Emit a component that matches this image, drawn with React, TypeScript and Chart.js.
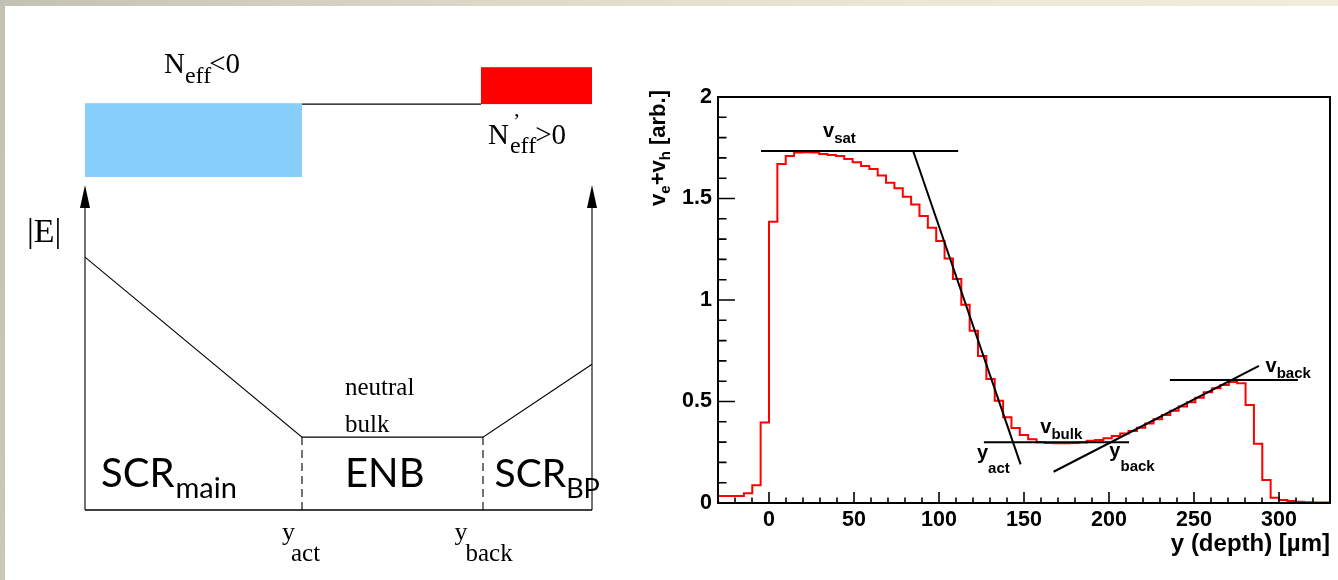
import React, { useEffect, useRef } from "react";
import { Chart, registerables } from "chart.js";

Chart.register(...registerables);

// ================= Right panel data (ROOT histogram, v_e + v_h vs depth) =================
const binWidth = 300 / 61; // µm per bin
const firstBinIndex = -7; // index of the first bin listed below (bin k spans k*w .. (k+1)*w)
const velocitySum = [
  0.034, 0.034, 0.034, 0.034, 0.048, 0.087, 0.396,
  1.386, 1.670, 1.709, 1.726, 1.728, 1.726, 1.719, 1.714, 1.709, 1.695,
  1.678, 1.660, 1.645, 1.613, 1.578, 1.550, 1.509, 1.471, 1.414, 1.356,
  1.291, 1.205, 1.103, 0.977, 0.849, 0.724, 0.611, 0.504, 0.422, 0.370,
  0.335, 0.314, 0.299, 0.295, 0.294, 0.294, 0.295, 0.298, 0.307, 0.310,
  0.319, 0.330, 0.342, 0.355, 0.371, 0.392, 0.412, 0.433, 0.455, 0.475,
  0.496, 0.519, 0.545, 0.565, 0.581, 0.596, 0.590, 0.483, 0.292, 0.113,
  0.026, 0.015, 0.010, 0.006, 0.004, 0.003, 0.003, 0.003,
];

const xMajorTicks = [0, 50, 100, 150, 200, 250, 300];
const xMinorTicks = [-20, -10, 10, 20, 30, 40, 60, 70, 80, 90, 110, 120, 130, 140, 160, 170, 180, 190, 210, 220, 230, 240, 260, 270, 280, 290, 310, 320];
const yMajorTicks = [0, 0.5, 1, 1.5, 2];
const yTickLabels = ["0", "0.5", "1", "1.5", "2"];
const yMinorTicks = [0.1, 0.2, 0.3, 0.4, 0.6, 0.7, 0.8, 0.9, 1.1, 1.2, 1.3, 1.4, 1.6, 1.7, 1.8, 1.9];

// straight-line constructions drawn on the histogram (µm, arb.)
const satLineX = [-4.7, 111.3];
const satLineY = [1.734, 1.734];
const actSlopeX = [84.8, 148.0];
const actSlopeY = [1.734, 0.19];
const bulkLineX = [126.4, 211.8];
const bulkLineY = [0.299, 0.299];
const backSlopeX = [167.4, 288.2];
const backSlopeY = [0.154, 0.676];
const backLineX = [235.8, 311.1];
const backLineY = [0.606, 0.606];

const fitLabelBase = ["v", "v", "y", "y", "v"];
const fitLabelSub = ["sat", "bulk", "act", "back", "back"];
const fitLabelX = [31.8, 159.6, 122.3, 200.2, 292.1];
const fitLabelY = [1.804, 0.343, 0.219, 0.227, 0.647];

// ================= Left panel (schematic) data, in schematic units =================
const fieldProfileX = [0, 42.8, 78.5, 100];
const fieldProfileY = [56.2, 16.2, 16.2, 32.4];
const regionEdges = [42.8, 78.5];
const regionEdgeTop = 16.2;
const arrowX = [0, 100];
const arrowTop = 72.2;
const negBlockX = [0, 42.8];
const negBlockY = [74.0, 90.4];
const posBlockX = [78.1, 100];
const posBlockY = [90.2, 98.4];
const junctionLineX = [42.8, 78.1];
const junctionLineY = 90.2;

type Part = { t: string; size: number; dx?: number; dy?: number; noAdvance?: boolean };

const SERIF = '"Liberation Serif", "DejaVu Serif", serif';
const SANS = 'Lato, "Open Sans", sans-serif';
const ROOTFONT = '"Liberation Sans", Arial, sans-serif';

const schematicLabels: { x: number; y: number; family: string; parts: Part[] }[] = [
  { x: 15.58, y: 97.11, family: SERIF, parts: [{ t: "N", size: 29 }, { t: "eff", size: 24, dy: 10 }, { t: "<0", size: 29, dx: -2 }] },
  { x: 79.49, y: 81.33, family: SERIF, parts: [{ t: "N", size: 29 }, { t: "\u2019", size: 22, dx: 4, dy: -16, noAdvance: true }, { t: "eff", size: 24, dy: 9, dx: -3 }, { t: ">0", size: 29, dx: -1 }] },
  { x: -11.44, y: 59.56, family: SERIF, parts: [{ t: "|E|", size: 34 }] },
  { x: 51.28, y: 25.56, family: SERIF, parts: [{ t: "neutral", size: 25 }] },
  { x: 51.28, y: 17.4, family: SERIF, parts: [{ t: "bulk", size: 25 }] },
  { x: 3.16, y: 5.11, family: SANS, parts: [{ t: "SCR", size: 40 }, { t: "main", size: 29, dy: 11, dx: 1 }] },
  { x: 51.28, y: 5.11, family: SANS, parts: [{ t: "ENB", size: 40 }] },
  { x: 80.77, y: 5.11, family: SANS, parts: [{ t: "SCR", size: 39 }, { t: "BP", size: 27, dy: 11, dx: 0 }] },
  { x: 38.86, y: -6.67, family: SERIF, parts: [{ t: "y", size: 26 }, { t: "act", size: 25, dx: -4, dy: 21 }] },
  { x: 72.88, y: -6.67, family: SERIF, parts: [{ t: "y", size: 26 }, { t: "back", size: 25, dx: -2, dy: 21 }] },
];

function drawRich(ctx: CanvasRenderingContext2D, x: number, y: number, parts: Part[], family: string, weight: string, align: "left" | "right" = "left") {
  ctx.save();
  ctx.textBaseline = "alphabetic";
  ctx.textAlign = "left";
  ctx.fillStyle = "#000";
  const widths = parts.map((p) => {
    ctx.font = `${weight} ${p.size}px ${family}`;
    return ctx.measureText(p.t).width;
  });
  let total = 0;
  parts.forEach((p, i) => { total += (p.dx || 0) + (p.noAdvance ? 0 : widths[i]); });
  let pen = align === "right" ? x - total : x;
  parts.forEach((p, i) => {
    ctx.font = `${weight} ${p.size}px ${family}`;
    pen += p.dx || 0;
    ctx.fillText(p.t, pen, y + (p.dy || 0));
    if (!p.noAdvance) pen += widths[i];
  });
  ctx.restore();
}

const pts = (xs: number[], ys: number[]) => xs.map((x, i) => ({ x, y: ys[i] }));

export default function App() {
  const leftRef = useRef<HTMLCanvasElement>(null);
  const rightRef = useRef<HTMLCanvasElement>(null);

  useEffect(() => {
    // ---------------- schematic ----------------
    const schematicPlugin = {
      id: "schematic",
      beforeDatasetsDraw(chart: any) {
        const { ctx, scales: { x, y } } = chart;
        ctx.save();
        ctx.fillStyle = "#87cefa";
        ctx.fillRect(x.getPixelForValue(negBlockX[0]), y.getPixelForValue(negBlockY[1]), x.getPixelForValue(negBlockX[1]) - x.getPixelForValue(negBlockX[0]), y.getPixelForValue(negBlockY[0]) - y.getPixelForValue(negBlockY[1]));
        ctx.fillStyle = "#ff0000";
        ctx.fillRect(x.getPixelForValue(posBlockX[0]), y.getPixelForValue(posBlockY[1]), x.getPixelForValue(posBlockX[1]) - x.getPixelForValue(posBlockX[0]), y.getPixelForValue(posBlockY[0]) - y.getPixelForValue(posBlockY[1]));
        ctx.restore();
      },
      afterDatasetsDraw(chart: any) {
        const { ctx, scales: { x, y } } = chart;
        ctx.save();
        ctx.fillStyle = "#000";
        for (const ax of arrowX) {
          const px = x.getPixelForValue(ax);
          const py = y.getPixelForValue(arrowTop);
          ctx.beginPath();
          ctx.moveTo(px, py);
          ctx.lineTo(px - 5, py + 23);
          ctx.lineTo(px + 5, py + 23);
          ctx.closePath();
          ctx.fill();
        }
        ctx.restore();
        for (const l of schematicLabels) {
          drawRich(ctx, x.getPixelForValue(l.x), y.getPixelForValue(l.y), l.parts, l.family, "normal");
        }
      },
    };

    const thin = { borderColor: "#000", borderWidth: 1.1, pointRadius: 0, showLine: true, fill: false, tension: 0, clip: false as any };
    const left = new Chart(leftRef.current!, {
      type: "scatter",
      data: {
        datasets: [
          { ...thin, data: pts(fieldProfileX, fieldProfileY) },
          { ...thin, borderWidth: 1.5, data: pts([arrowX[0], arrowX[1]], [0, 0]) },
          { ...thin, data: pts([arrowX[0], arrowX[0]], [0, arrowTop - 2]) },
          { ...thin, data: pts([arrowX[1], arrowX[1]], [0, arrowTop - 2]) },
          { ...thin, borderDash: [8, 5], data: pts([regionEdges[0], regionEdges[0]], [0, regionEdgeTop]) },
          { ...thin, borderDash: [8, 5], data: pts([regionEdges[1], regionEdges[1]], [0, regionEdgeTop]) },
          { ...thin, data: pts(junctionLineX, [junctionLineY, junctionLineY]) },
        ],
      },
      options: {
        animation: false,
        responsive: false,
        events: [],
        layout: { padding: { left: 85, right: 48, top: 60, bottom: 70 } },
        scales: {
          x: { type: "linear", display: false, min: 0, max: 100 },
          y: { type: "linear", display: false, min: 0, max: 100 },
        },
        plugins: { legend: { display: false }, tooltip: { enabled: false } },
      },
      plugins: [schematicPlugin],
    });

    // ---------------- ROOT-style histogram ----------------
    const histData = velocitySum.map((v, i) => ({ x: (firstBinIndex + i) * binWidth, y: v }));
    histData.push({ x: (firstBinIndex + velocitySum.length) * binWidth, y: velocitySum[velocitySum.length - 1] });

    const rootPlugin = {
      id: "rootFrame",
      afterDatasetsDraw(chart: any) {
        const { ctx, chartArea: a, scales: { x, y } } = chart;
        ctx.save();
        ctx.strokeStyle = "#000";
        ctx.lineWidth = 2;
        ctx.strokeRect(a.left, a.top, a.right - a.left, a.bottom - a.top);
        ctx.lineWidth = 1.6;
        ctx.beginPath();
        for (const v of xMajorTicks) { const p = x.getPixelForValue(v); ctx.moveTo(p, a.bottom); ctx.lineTo(p, a.bottom - 11); }
        for (const v of xMinorTicks) { const p = x.getPixelForValue(v); ctx.moveTo(p, a.bottom); ctx.lineTo(p, a.bottom - 5.5); }
        for (const v of yMajorTicks) { const p = y.getPixelForValue(v); ctx.moveTo(a.left, p); ctx.lineTo(a.left + 17, p); }
        for (const v of yMinorTicks) { const p = y.getPixelForValue(v); ctx.moveTo(a.left, p); ctx.lineTo(a.left + 8.5, p); }
        ctx.stroke();
        ctx.restore();

        fitLabelBase.forEach((b, i) => {
          const isY = b === "y";
          drawRich(ctx, x.getPixelForValue(fitLabelX[i]), y.getPixelForValue(fitLabelY[i]),
            [{ t: b, size: 20 }, { t: fitLabelSub[i], size: 15, dy: isY ? 14.5 : 6 }], ROOTFONT, "bold");
        });

        // y-axis title with subscripts, rotated
        ctx.save();
        ctx.translate(a.left - 53, a.top - 7);
        ctx.rotate(-Math.PI / 2);
        drawRich(ctx, 0, 0, [
          { t: "v", size: 22 }, { t: "e", size: 15, dy: 5 }, { t: "+v", size: 22 }, { t: "h", size: 15, dy: 5 }, { t: " [arb.]", size: 22 },
        ], ROOTFONT, "bold", "right");
        ctx.restore();
      },
    };

    const fit = { borderColor: "#000", borderWidth: 2, pointRadius: 0, showLine: true, fill: false, tension: 0 };
    const right = new Chart(rightRef.current!, {
      type: "scatter",
      data: {
        datasets: [
          { ...fit, data: pts(satLineX, satLineY) },
          { ...fit, data: pts(actSlopeX, actSlopeY) },
          { ...fit, data: pts(bulkLineX, bulkLineY) },
          { ...fit, data: pts(backSlopeX, backSlopeY) },
          { ...fit, data: pts(backLineX, backLineY) },
          { data: histData, showLine: true, stepped: true, borderColor: "#ff0000", borderWidth: 2, pointRadius: 0, fill: false, borderJoinStyle: "miter" } as any,
        ],
      },
      options: {
        animation: false,
        responsive: false,
        events: [],
        layout: { padding: { left: 0, right: 8, top: 97, bottom: 0 } },
        scales: {
          x: {
            type: "linear", min: -30, max: 330,
            grid: { display: false, drawTicks: false, tickLength: 0 }, border: { display: false },
            afterBuildTicks: (s: any) => { s.ticks = xMajorTicks.map((value) => ({ value })); },
            afterFit: (s: any) => { s.height = 77; },
            ticks: { color: "#000", padding: 4, maxRotation: 0, autoSkip: false, font: { family: ROOTFONT, size: 21.5, weight: "bold" } },
            title: { display: true, text: "y (depth) [\u00b5m]", align: "end", color: "#000", padding: { top: 0, bottom: 21 }, font: { family: ROOTFONT, size: 24, weight: "bold" } },
          },
          y: {
            type: "linear", min: 0, max: 2,
            grid: { display: false, drawTicks: false, tickLength: 0 }, border: { display: false },
            afterBuildTicks: (s: any) => { s.ticks = yMajorTicks.map((value) => ({ value })); },
            afterFit: (s: any) => { s.width = 118; },
            ticks: {
              color: "#000", padding: 6, autoSkip: false, font: { family: ROOTFONT, size: 21.5, weight: "bold" },
              callback: (value: any) => { const i = yMajorTicks.indexOf(Number(value)); return i >= 0 ? yTickLabels[i] : ""; },
            },
          },
        },
        plugins: { legend: { display: false }, tooltip: { enabled: false } },
      },
      plugins: [rootPlugin],
    });

    return () => { left.destroy(); right.destroy(); };
  }, []);

  return (
    <div style={{ position: "fixed", left: 0, top: 0, width: 1338, height: 580, background: "#ffffff", overflow: "hidden" }}>
      <div style={{ position: "absolute", left: 0, top: 0, width: 1338, height: 6, background: "linear-gradient(to right, #c3c1b3 0%, #dcd8c8 35%, #ede7d5 70%, #f1ecdb 100%)" }} />
      <div style={{ position: "absolute", left: 0, top: 0, width: 5, height: 580, background: "linear-gradient(to bottom, #c3c1b3, #cac8bb)" }} />
      <canvas ref={leftRef} width={640} height={580} style={{ position: "absolute", left: 0, top: 0 }} />
      <canvas ref={rightRef} width={738} height={580} style={{ position: "absolute", left: 600, top: 0 }} />
    </div>
  );
}
